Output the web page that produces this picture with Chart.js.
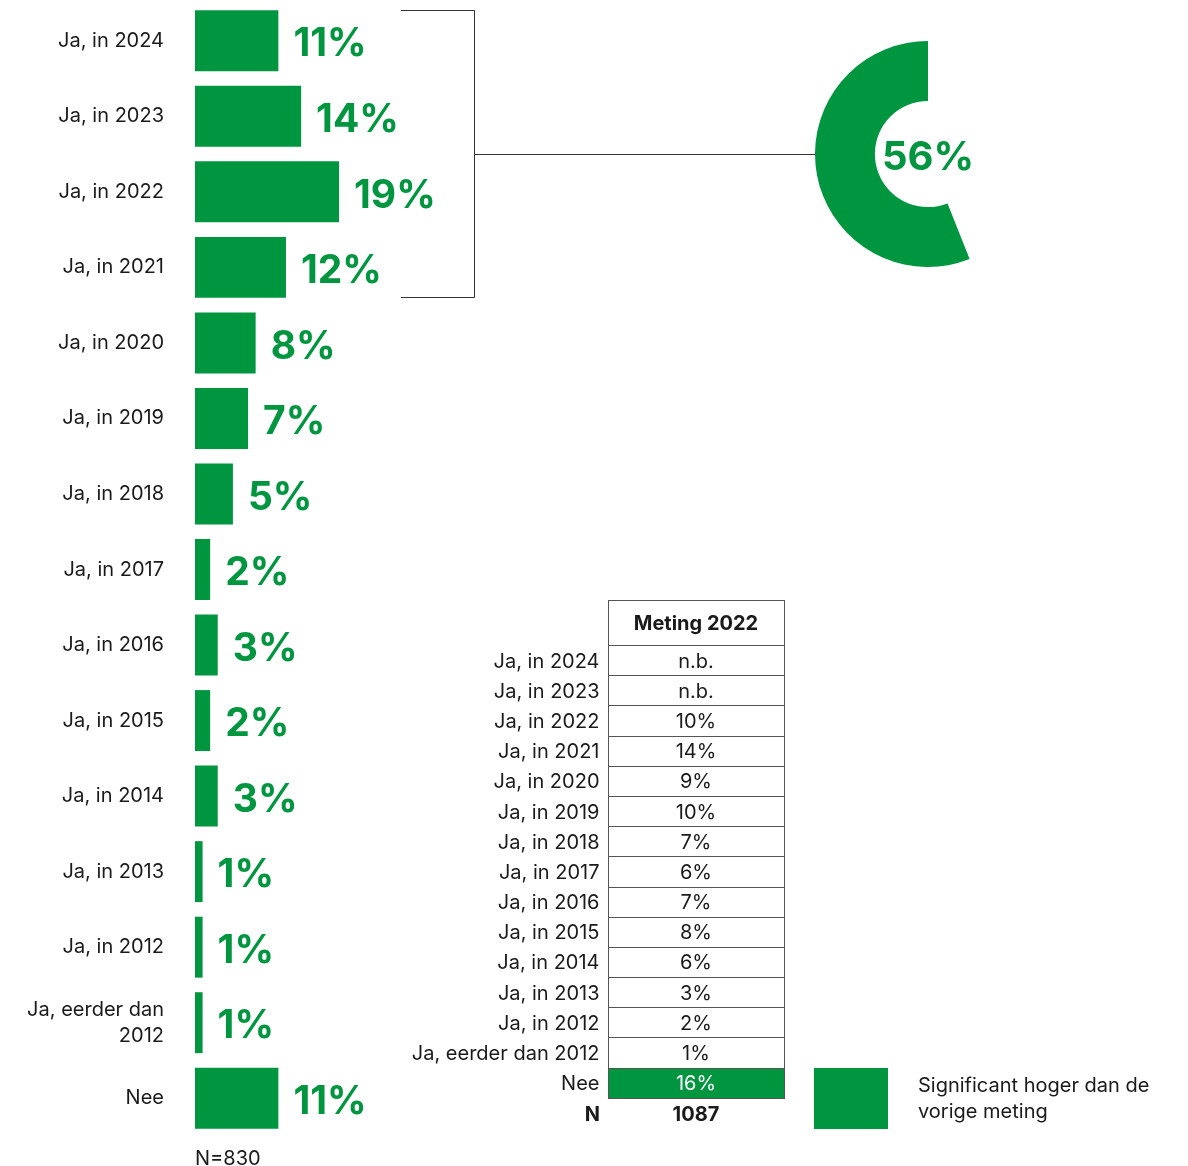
<!DOCTYPE html>
<html lang="nl">
<head>
<meta charset="utf-8">
<script src="https://cdn.jsdelivr.net/npm/chart.js@4.4.1/dist/chart.umd.min.js"></script>
<style>
  body { margin: 0; background: #fff; font-family: Inter, "Noto Sans", sans-serif; color: #1a1a1a; }
  #page { position: relative; width: 1188px; height: 1166px; overflow: hidden; }
  #bars { position: absolute; left: 0; top: 0; }
  #ring { position: absolute; left: 815px; top: 41px; }
  #meting { position: absolute; left: 400px; top: 600px; border-collapse: collapse; table-layout: fixed; font-size: 20px; }
  #meting td { padding: 0; white-space: nowrap; }
  #meting td.lbl { text-align: right; padding-right: 8px; }
  #meting td.val { text-align: center; border: 1px solid #555; }
  #meting tr.head td.val { font-weight: 700; height: 44px; }
  #meting tr.row { height: 30.2px; }
  #meting td.sig { background: #00963f; color: #fff; }
  #meting tr.total td { font-weight: 700; border: none; height: 30px; }
  #legendBox { position: absolute; left: 814px; top: 1068px; width: 74px; height: 61px; background: #00963f; }
  #legendText { position: absolute; left: 918px; top: 1072px; font-size: 20px; line-height: 26px; }
  #nTotal { position: absolute; left: 195px; top: 1146px; font-size: 20px; }
</style>
</head>
<body>
<div id="page">
  <canvas id="bars" width="1188" height="1166"></canvas>
  <canvas id="ring" width="226" height="226"></canvas>
  <table id="meting">
    <colgroup><col style="width:208px"><col style="width:176px"></colgroup>
    <tbody id="metingBody"></tbody>
  </table>
  <div id="legendBox"></div>
  <div id="legendText">Significant hoger dan de<br>vorige meting</div>
  <div id="nTotal">N=830</div>
</div>

<script>
// Wanneer voor het laatst? (huidige meting)
const categories = [
  'Ja, in 2024', 'Ja, in 2023', 'Ja, in 2022', 'Ja, in 2021', 'Ja, in 2020',
  'Ja, in 2019', 'Ja, in 2018', 'Ja, in 2017', 'Ja, in 2016', 'Ja, in 2015',
  'Ja, in 2014', 'Ja, in 2013', 'Ja, in 2012', ['Ja, eerder dan', '2012'], 'Nee'
];
const values = [11, 14, 19, 12, 8, 7, 5, 2, 3, 2, 3, 1, 1, 1, 11];

// Samengevoegd aandeel 2021 t/m 2024
const recentShare = 56;

// Vergelijking met meting 2022
const tableLabels = [
  'Ja, in 2024', 'Ja, in 2023', 'Ja, in 2022', 'Ja, in 2021', 'Ja, in 2020',
  'Ja, in 2019', 'Ja, in 2018', 'Ja, in 2017', 'Ja, in 2016', 'Ja, in 2015',
  'Ja, in 2014', 'Ja, in 2013', 'Ja, in 2012', 'Ja, eerder dan 2012', 'Nee'
];
const meting2022 = ['n.b.', 'n.b.', '10%', '14%', '9%', '10%', '7%', '6%', '7%', '8%', '6%', '3%', '2%', '1%', '16%'];
const significant = [false, false, false, false, false, false, false, false, false, false, false, false, false, false, true];
const n2022 = 1087;

const green = '#00963f';
const font = 'Inter, "Noto Sans", sans-serif';

// tabel opbouwen
const tbody = document.getElementById('metingBody');
tbody.innerHTML = '<tr class="head"><td class="lbl"></td><td class="val">Meting 2022</td></tr>';
tableLabels.forEach((label, i) => {
  const tr = document.createElement('tr');
  tr.className = 'row';
  tr.innerHTML = `<td class="lbl">${label}</td><td class="val${significant[i] ? ' sig' : ''}">${meting2022[i]}</td>`;
  tbody.appendChild(tr);
});
const totalRow = document.createElement('tr');
totalRow.className = 'total';
totalRow.innerHTML = `<td class="lbl">N</td><td class="val" style="border:none">${n2022}</td>`;
tbody.appendChild(totalRow);

// percentages achter de balken
const barLabels = {
  id: 'barLabels',
  afterDatasetsDraw(chart) {
    const ctx = chart.ctx;
    const meta = chart.getDatasetMeta(0);
    ctx.save();
    ctx.fillStyle = green;
    ctx.font = `700 39px ${font}`;
    ctx.textAlign = 'left';
    ctx.textBaseline = 'middle';
    meta.data.forEach((bar, i) => {
      ctx.fillText(values[i] + '%', bar.x + 15, bar.y + 4);
    });
    ctx.restore();
  }
};

// accolade rond 2021-2024 met lijn naar de ring
const bracket = {
  id: 'bracket',
  afterDraw(chart) {
    const ctx = chart.ctx;
    const meta = chart.getDatasetMeta(0);
    const first = meta.data[0], last = meta.data[3];
    const top = Math.round(first.y - first.height / 2) + 0.5;
    const bottom = Math.round(last.y + last.height / 2) - 0.5;
    const mid = Math.round((top + bottom) / 2) + 0.5;
    ctx.save();
    ctx.strokeStyle = '#333';
    ctx.lineWidth = 1;
    ctx.beginPath();
    ctx.moveTo(401, top); ctx.lineTo(474.5, top); ctx.lineTo(474.5, bottom); ctx.lineTo(401, bottom);
    ctx.moveTo(474.5, mid); ctx.lineTo(816, mid);
    ctx.stroke();
    ctx.restore();
  }
};

new Chart(document.getElementById('bars'), {
  type: 'bar',
  data: {
    labels: categories,
    datasets: [{
      data: values,
      backgroundColor: green,
      borderWidth: 0,
      barPercentage: 0.807,
      categoryPercentage: 1
    }]
  },
  options: {
    indexAxis: 'y',
    responsive: false,
    animation: false,
    devicePixelRatio: 1,
    layout: { padding: { top: 3, bottom: 30, right: 0, left: 0 } },
    plugins: { legend: { display: false }, tooltip: { enabled: false } },
    scales: {
      x: { display: false, min: 0, max: 131 },
      y: {
        grid: { display: false, drawTicks: false, tickLength: 0 },
        border: { display: false },
        ticks: {
          color: '#1a1a1a',
          padding: 31,
          font: { family: font, size: 20, lineHeight: 1.3 }
        },
        afterFit(scale) {
          scale.width = 195;
          scale.paddingTop = 0;
          scale.paddingBottom = 0;
        }
      }
    }
  },
  plugins: [barLabels, bracket]
});

// ringdiagram met totaal in het midden
const ringLabel = {
  id: 'ringLabel',
  afterDraw(chart) {
    const arc = chart.getDatasetMeta(0).data[0];
    const ctx = chart.ctx;
    ctx.save();
    ctx.fillStyle = green;
    ctx.font = `700 40px ${font}`;
    ctx.textAlign = 'center';
    ctx.textBaseline = 'middle';
    ctx.fillText(recentShare + '%', arc.x, arc.y + 4);
    ctx.restore();
  }
};

new Chart(document.getElementById('ring'), {
  type: 'doughnut',
  data: {
    datasets: [{
      data: [100 - recentShare, recentShare],
      backgroundColor: ['rgba(0,0,0,0)', green],
      borderWidth: 0
    }]
  },
  options: {
    responsive: false,
    animation: false,
    devicePixelRatio: 1,
    cutout: '47%',
    layout: { padding: 0 },
    plugins: { legend: { display: false }, tooltip: { enabled: false } }
  },
  plugins: [ringLabel]
});
</script>
</body>
</html>
